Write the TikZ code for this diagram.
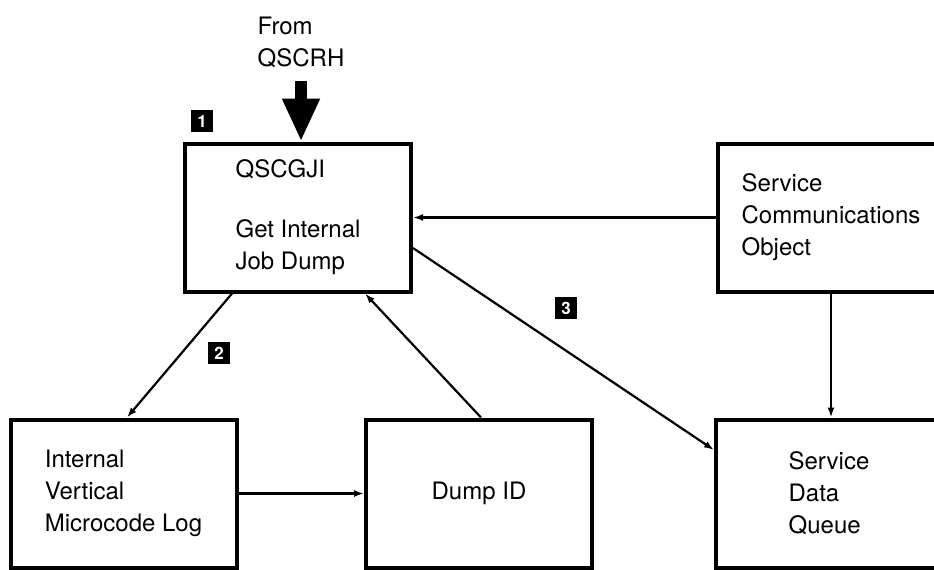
\documentclass[tikz,border=0pt]{standalone}
\usepackage{fontspec}
\setmainfont{TeX Gyre Heros}
\usetikzlibrary{arrows.meta}

\begin{document}
\begin{tikzpicture}[
  x=1pt, y=-1pt,
  box/.style={
    draw,
    line width=4pt,
    minimum width=226pt,
    minimum height=148pt,
    align=left,
    inner sep=0pt,
    font=\fontsize{24}{32}\selectfont
  },
  flow/.style={line width=2.2pt, -{Latex[length=10pt,width=7pt]}},
  tag/.style={
    fill=black, text=white,
    minimum size=22pt, inner sep=0pt,
    font=\fontsize{17}{17}\selectfont\bfseries
  }
]
\useasboundingbox (0,0) rectangle (934,570);
\clip (0,0) rectangle (934,570);

\node[align=left, font=\fontsize{24}{32}\selectfont] (src) at (301,42) {From\\QSCRH};
\node[box] (gji) at (298,217.5) {QSCGJI\\[28pt]Get Internal\\Job Dump};
\node[box] (sco) at (831,217.5) {Service\\Communications\\Object};
\node[box] (vlog) at (123.5,493.5) {Internal\\Vertical\\Microcode Log};
\node[box] (dump) at (479,493.5) {Dump ID};
\node[box] (sdq) at (829,493.5) {Service\\Data\\Queue};

% step numbers
\node[tag] (t1) at (202,121) {1};
\node[tag] (t2) at (219,353) {2};
\node[tag] (t3) at (566,308) {3};

\draw[line width=12pt, -{Triangle[width=35pt,length=43pt]}, shorten <=10pt]
  (src.south) -- (src.south |- gji.north);
\draw[flow] (sco.west) -- (gji.east);
\draw[flow] (sco.south) -- (sco.south |- sdq.north);
\draw[flow] ([xshift=-66pt]gji.south) -- ([xshift=3.5pt]vlog.north);
\draw[flow] ([xshift=2pt]dump.north) -- ([xshift=67pt]gji.south);
\draw[flow] ([yshift=-30.5pt]gji.east) -- ([yshift=43.5pt]sdq.west);
\draw[flow] (vlog.east) -- (dump.west);
\end{tikzpicture}
\end{document}
